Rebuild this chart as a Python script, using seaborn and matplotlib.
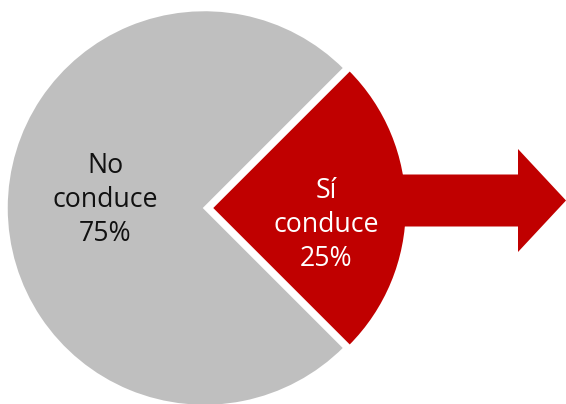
import matplotlib
matplotlib.use("Agg")
import matplotlib.pyplot as plt
import seaborn as sns
from matplotlib.patches import Polygon

# Data
categories = ["Sí\nconduce", "No\nconduce"]
shares = [25, 75]
colors = ["#C00000", "#BFBFBF"]
text_colors = ["white", "#111111"]

sns.set_theme(style="white")
plt.rcParams["font.family"] = ["Open Sans", "DejaVu Sans"]

W, H = 566, 404
fig = plt.figure(figsize=(W / 100, H / 100), dpi=100)
ax = fig.add_axes([0, 0, 1, 1])

cx, cy, R = 204.5, 196, 198
explode_px = 7
wedges, _ = ax.pie(
    shares,
    colors=colors,
    startangle=-45,
    counterclock=True,
    radius=R,
    center=(cx, cy),
    explode=[explode_px, 0],
    wedgeprops=dict(edgecolor="white", linewidth=1.8),
    frame=True,
)
wedges[0].set_radius(195.5)
for w in wedges:
    w.set_zorder(2)
ax.set_xlim(0, W)
ax.set_ylim(0, H)
ax.set_aspect("equal")
ax.axis("off")

# Arrow emerging from the highlighted slice
ay = 203.5
shaft_h, head_h = 52, 103
x0, xb, xt = 395, 518, 566
arrow = Polygon(
    [(x0, ay + shaft_h / 2), (xb, ay + shaft_h / 2), (xb, ay + head_h / 2),
     (xt, ay), (xb, ay - head_h / 2), (xb, ay - shaft_h / 2), (x0, ay - shaft_h / 2)],
    closed=True, facecolor=colors[0], edgecolor="none", zorder=3)
ax.add_patch(arrow)

label_pos = [(326, H - 225), (105, H - 200)]
for cat, val, (tx, ty), tc in zip(categories, shares, label_pos, text_colors):
    ax.text(tx, ty, f"{cat}\n{val}%", ha="center", va="center", color=tc,
            fontsize=19.2, linespacing=1.3, zorder=5)

fig.savefig("out.png", dpi=100)
